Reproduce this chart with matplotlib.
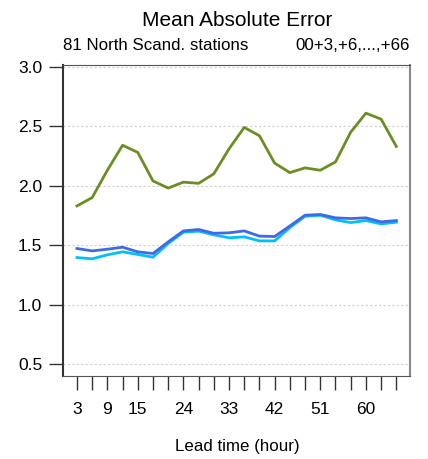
import matplotlib
matplotlib.use('Agg')
import matplotlib.pyplot as plt

plt.rcParams['font.family'] = ['Liberation Sans', 'DejaVu Sans']

# lead times (hours)
lead = [3, 6, 9, 12, 15, 18, 21, 24, 27, 30, 33, 36, 39, 42, 45, 48, 51, 54, 57, 60, 63, 66]
tick_labels = [3, 9, 15, 24, 33, 42, 51, 60]

# MAE per model
mae_green = [1.83, 1.90, 2.13, 2.34, 2.28, 2.04, 1.98, 2.03, 2.02, 2.10, 2.31, 2.49,
             2.42, 2.19, 2.11, 2.15, 2.13, 2.20, 2.45, 2.61, 2.56, 2.33]
mae_blue = [1.472, 1.452, 1.466, 1.483, 1.444, 1.430, 1.528, 1.620, 1.632, 1.600, 1.604, 1.620,
            1.576, 1.573, 1.662, 1.752, 1.758, 1.730, 1.724, 1.730, 1.696, 1.707]
mae_lblue = [1.396, 1.385, 1.419, 1.444, 1.422, 1.399, 1.514, 1.609, 1.618, 1.587, 1.562, 1.570,
             1.536, 1.536, 1.648, 1.743, 1.752, 1.713, 1.690, 1.707, 1.679, 1.693]

fig = plt.figure(figsize=(4.28, 4.59), dpi=100)
ax = fig.add_axes([63 / 428, 1 - 376 / 459, (410 - 63) / 428, (376 - 65) / 459])

yt = [0.5, 1.0, 1.5, 2.0, 2.5, 3.0]
for v in yt:
    ax.axhline(v, color='#d0d0d0', lw=0.8, ls=(0, (2, 2)), zorder=0)

ax.plot(lead, mae_green, color='#6b8e23', lw=2)
ax.plot(lead, mae_lblue, color='#00bfff', lw=2)
ax.plot(lead, mae_blue, color='#4169e1', lw=2)

ax.set_xlim(0.25, 68.7)
ax.set_ylim(0.40, 3.015)

ax.set_yticks(yt)
ax.set_yticklabels(['%.1f' % v for v in yt], fontsize=12.5)
ax.set_xticks(lead)
ax.set_xticklabels([str(x) if x in tick_labels else '' for x in lead], fontsize=12.5)
ax.tick_params(axis='y', length=10, width=1, color='#333333', pad=5)
ax.tick_params(axis='x', length=10, width=1, color='#333333', pad=9)

ax.spines['left'].set_color('#333333')
ax.spines['left'].set_linewidth(1.5)
ax.spines['right'].set_color('#888888')
ax.spines['right'].set_linewidth(1.5)
ax.spines['top'].set_color('#555555')
ax.spines['bottom'].set_color('#555555')

fig.text(0.555, 1 - 20 / 459, 'Mean Absolute Error', ha='center', va='center', fontsize=15)
fig.text(63 / 428, 1 - 45 / 459, '81 North Scand. stations', ha='left', va='center', fontsize=12.2)
fig.text(410 / 428, 1 - 45 / 459, '00+3,+6,...,+66', ha='right', va='center', fontsize=12.2)
fig.text(0.555, 1 - 446 / 459, 'Lead time (hour)', ha='center', va='center', fontsize=12.2)

fig.savefig('out.png', dpi=100)
